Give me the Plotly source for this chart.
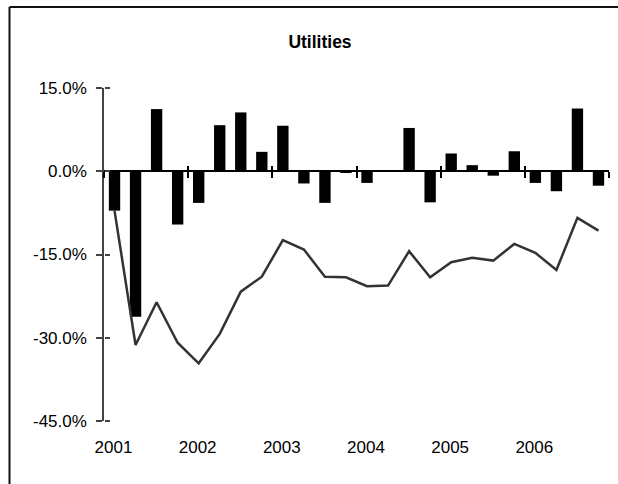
import plotly.graph_objects as go

# quarterly returns (%), Q1 2001 .. Q4 2006
quarter_returns = [
    -7.1, -26.2, 11.2, -9.6,
    -5.7, 8.3, 10.6, 3.5,
    8.2, -2.2, -5.7, -0.3,
    -2.1, 0.2, 7.8, -5.6,
    3.2, 1.1, -0.8, 3.6,
    -2.1, -3.6, 11.3, -2.6,
]
# cumulative return line (%)
cumulative = [
    -7.1, -31.3, -23.6, -30.9,
    -34.6, -29.3, -21.7, -19.0,
    -12.4, -14.1, -19.0, -19.1,
    -20.7, -20.6, -14.4, -19.1,
    -16.4, -15.6, -16.1, -13.1,
    -14.7, -17.8, -8.4, -10.7,
]
years = ["2001", "2002", "2003", "2004", "2005", "2006"]
y_ticks = [-45, -30, -15, 0, 15]
y_tick_text = [f"{v:.1f}%" for v in y_ticks]

W, H = 618, 484
ML, MR, MT, MB = 104, 9, 88, 63
pw, ph = W - ML - MR, H - MT - MB

x_pos = [i + 0.5 for i in range(len(quarter_returns))]
year_starts = [4 * i for i in range(len(years) + 1)]
label_pos = [4 * i + 0.45 for i in range(len(years))]
x_range = [0, 24]
y_range = [-45, 15]
zero_pos = (0 - y_range[0]) / (y_range[1] - y_range[0])

font = "Liberation Sans, Arial, sans-serif"

fig = go.Figure()
fig.add_trace(
    go.Bar(
        x=x_pos,
        y=quarter_returns,
        width=0.54,
        marker=dict(color="#000000", line=dict(width=0)),
        name="Quarter",
    )
)
fig.add_trace(
    go.Scatter(
        x=x_pos,
        y=cumulative,
        mode="lines",
        line=dict(color="#333333", width=2.5),
        name="Cumulative",
    )
)
# empty traces so the helper axes (labels, crossing ticks) get drawn
for xa, ya in [("x2", "y"), ("x3", "y"), ("x", "y2")]:
    fig.add_trace(go.Scatter(x=[None], y=[None], xaxis=xa, yaxis=ya, hoverinfo="skip"))


def px_to_paper_x(px):
    return (px - ML) / pw


def px_to_paper_y(py):
    return (H - MB - py) / ph


fig.update_layout(
    width=W,
    height=H,
    margin=dict(l=ML, r=MR, t=MT, b=MB),
    paper_bgcolor="white",
    plot_bgcolor="white",
    showlegend=False,
    font=dict(family=font, size=17, color="#000000"),
    title=dict(
        text="<b>Utilities</b>",
        x=320 / W,
        xref="container",
        y=1 - 42 / H,
        yref="container",
        xanchor="center",
        yanchor="middle",
        font=dict(family=font, size=17.5, color="#000000"),
    ),
    xaxis=dict(
        range=x_range,
        anchor="free",
        position=zero_pos,
        showline=True,
        linecolor="#000000",
        linewidth=2,
        ticks="outside",
        tickvals=year_starts,
        ticklen=6,
        tickwidth=1.5,
        tickcolor="#000000",
        showticklabels=False,
        showgrid=False,
        zeroline=False,
    ),
    xaxis3=dict(
        range=x_range,
        overlaying="x",
        anchor="free",
        position=zero_pos,
        ticks="inside",
        tickvals=year_starts,
        ticklen=5,
        tickwidth=1.5,
        tickcolor="#000000",
        showticklabels=False,
        showline=False,
        showgrid=False,
        zeroline=False,
    ),
    xaxis2=dict(
        range=x_range,
        overlaying="x",
        anchor="y",
        side="bottom",
        ticks="",
        tickvals=label_pos,
        ticktext=years,
        ticklabelstandoff=14,
        showline=False,
        showgrid=False,
        zeroline=False,
        tickfont=dict(family=font, size=17, color="#000000"),
    ),
    yaxis=dict(
        range=y_range,
        tickvals=y_ticks,
        ticktext=y_tick_text,
        showline=True,
        linecolor="#444444",
        linewidth=1.5,
        ticks="outside",
        ticklen=6,
        tickwidth=1.5,
        tickcolor="#444444",
        ticklabelstandoff=6,
        showgrid=False,
        zeroline=False,
        tickfont=dict(family=font, size=17, color="#000000"),
    ),
    yaxis2=dict(
        range=y_range,
        overlaying="y",
        anchor="free",
        position=0,
        side="right",
        ticks="outside",
        tickvals=y_ticks,
        ticklen=5,
        tickwidth=1.5,
        tickcolor="#444444",
        showticklabels=False,
        showline=False,
        showgrid=False,
        zeroline=False,
    ),
    shapes=[
        dict(
            type="line", xref="paper", yref="paper",
            x0=px_to_paper_x(9.5), x1=px_to_paper_x(9.5),
            y0=px_to_paper_y(7), y1=px_to_paper_y(H + 5),
            line=dict(color="#111111", width=2),
        ),
        dict(
            type="line", xref="paper", yref="paper",
            x0=px_to_paper_x(9.5), x1=px_to_paper_x(W + 5),
            y0=px_to_paper_y(7), y1=px_to_paper_y(7),
            line=dict(color="#111111", width=2),
        ),
    ],
)

fig.write_html(
    "out.html",
    config={"displayModeBar": False},
    post_script="document.body.style.margin='0';document.body.style.overflow='hidden';",
)
